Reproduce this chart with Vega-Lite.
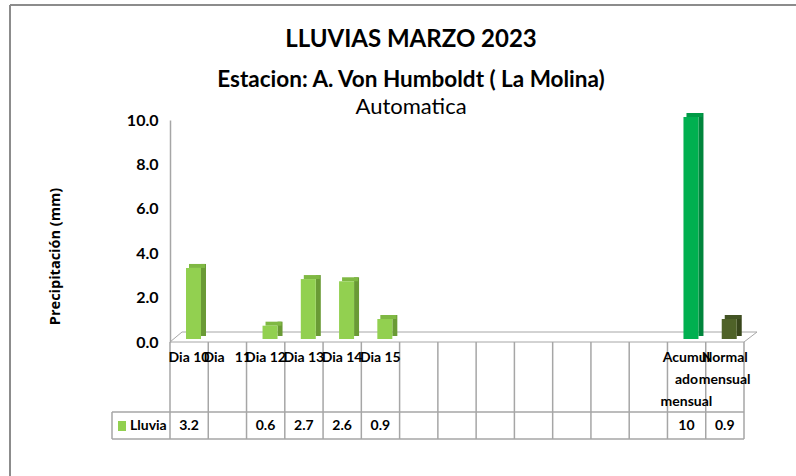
{
  "$schema": "https://vega.github.io/schema/vega-lite/v6.json",
  "autosize": {"type": "none"},
  "width": 574,
  "height": 222,
  "padding": {"left": 170, "top": 120, "right": 52, "bottom": 134},
  "background": "white",
  "config": {"view": {"stroke": null}, "font": "Lato"},
  "title": {
    "text": "LLUVIAS MARZO 2023",
    "subtitle": "Estacion: A. Von Humboldt ( La Molina)",
    "frame": "group",
    "anchor": "middle",
    "dx": -46,
    "offset": -87,
    "font": "Lato",
    "fontSize": 24,
    "fontWeight": "bold",
    "color": "#000000",
    "subtitleFont": "Lato",
    "subtitleFontSize": 22.5,
    "subtitleFontWeight": "bold",
    "subtitleColor": "#000000",
    "subtitlePadding": 17
  },
  "data": {
    "values": [
      {"i": 0, "label": "Dia 10", "value": 3.2, "kind": "dia"},
      {"i": 1, "label": "Dia\u00a0\u00a0\u00a011", "value": null, "kind": "dia"},
      {"i": 2, "label": "Dia 12", "value": 0.6, "kind": "dia"},
      {"i": 3, "label": "Dia 13", "value": 2.7, "kind": "dia"},
      {"i": 4, "label": "Dia 14", "value": 2.6, "kind": "dia"},
      {"i": 5, "label": "Dia 15", "value": 0.9, "kind": "dia"},
      {"i": 6, "label": "", "value": null, "kind": "dia"},
      {"i": 7, "label": "", "value": null, "kind": "dia"},
      {"i": 8, "label": "", "value": null, "kind": "dia"},
      {"i": 9, "label": "", "value": null, "kind": "dia"},
      {"i": 10, "label": "", "value": null, "kind": "dia"},
      {"i": 11, "label": "", "value": null, "kind": "dia"},
      {"i": 12, "label": "", "value": null, "kind": "dia"},
      {"i": 13, "label": "Acumul\nado\nmensual", "value": 10, "kind": "acum"},
      {"i": 14, "label": "Normal\nmensual", "value": 0.9, "kind": "normal"}
    ]
  },
  "resolve": {"scale": {"color": "independent"}},
  "layer": [
    {
      "data": {"values": [{}]},
      "mark": {"type": "rule", "color": "#8C8C8C", "strokeWidth": 2, "xOffset": -160, "x2Offset": 300, "yOffset": -115, "y2Offset": -115},
      "encoding": {"x": {"datum": 0, "type": "quantitative", "scale": {"domain": [0, 15], "nice": false, "zero": false}, "axis": null}, "x2": {"datum": 15}, "y": {"datum": 10, "type": "quantitative"}, "y2": {"datum": 10}}
    },
    {
      "data": {"values": [{}]},
      "mark": {"type": "rule", "color": "#8C8C8C", "strokeWidth": 2, "xOffset": -160, "x2Offset": -160, "yOffset": -115, "y2Offset": 150},
      "encoding": {"x": {"datum": 0, "type": "quantitative"}, "x2": {"datum": 0}, "y": {"datum": 10, "type": "quantitative"}, "y2": {"datum": 0}}
    },
    {
      "data": {"values": [{}]},
      "mark": {"type": "rule", "color": "#A6A6A6", "strokeWidth": 1, "xOffset": 12, "x2Offset": 13, "yOffset": -10, "y2Offset": -10},
      "encoding": {"x": {"datum": 0, "type": "quantitative"}, "x2": {"datum": 15}, "y": {"datum": 0, "type": "quantitative"}, "y2": {"datum": 0}}
    },
    {
      "data": {"values": [{}]},
      "mark": {"type": "rule", "color": "#A6A6A6", "strokeWidth": 1, "xOffset": 0, "x2Offset": 12, "yOffset": 0, "y2Offset": -10},
      "encoding": {"x": {"datum": 0, "type": "quantitative"}, "x2": {"datum": 0}, "y": {"datum": 0, "type": "quantitative"}, "y2": {"datum": 0}}
    },
    {
      "data": {"values": [{}]},
      "mark": {"type": "rule", "color": "#A6A6A6", "strokeWidth": 1, "xOffset": 0, "x2Offset": 13, "yOffset": 0, "y2Offset": -10},
      "encoding": {"x": {"datum": 15, "type": "quantitative"}, "x2": {"datum": 15}, "y": {"datum": 0, "type": "quantitative"}, "y2": {"datum": 0}}
    },
    {
      "data": {"values": [{}]},
      "mark": {"type": "rule", "color": "#A6A6A6", "strokeWidth": 1},
      "encoding": {"x": {"datum": 0, "type": "quantitative"}, "x2": {"datum": 15}, "y": {"datum": 0, "type": "quantitative"}, "y2": {"datum": 0}}
    },
    {
      "data": {"values": [{}]},
      "mark": {"type": "rule", "color": "#A6A6A6", "strokeWidth": 1.5, "xOffset": -58, "yOffset": 70, "y2Offset": 70},
      "encoding": {"x": {"datum": 0, "type": "quantitative"}, "x2": {"datum": 15}, "y": {"datum": 0, "type": "quantitative"}, "y2": {"datum": 0}}
    },
    {
      "data": {"values": [{}]},
      "mark": {"type": "rule", "color": "#A6A6A6", "strokeWidth": 1.5, "xOffset": -58, "yOffset": 97, "y2Offset": 97},
      "encoding": {"x": {"datum": 0, "type": "quantitative"}, "x2": {"datum": 15}, "y": {"datum": 0, "type": "quantitative"}, "y2": {"datum": 0}}
    },
    {
      "data": {"values": [{}]},
      "mark": {"type": "rule", "color": "#A6A6A6", "strokeWidth": 1.5, "xOffset": -58, "x2Offset": -58, "yOffset": 70, "y2Offset": 97},
      "encoding": {"x": {"datum": 0, "type": "quantitative"}, "x2": {"datum": 0}, "y": {"datum": 0, "type": "quantitative"}, "y2": {"datum": 0}}
    },
    {
      "mark": {"type": "rule", "color": "#A6A6A6", "strokeWidth": 1.5, "y2Offset": 97},
      "encoding": {"x": {"field": "i", "type": "quantitative", "scale": {"domain": [0, 15], "nice": false, "zero": false}}, "y": {"datum": 0, "type": "quantitative"}, "y2": {"datum": 0}}
    },
    {
      "data": {"values": [{}]},
      "mark": {"type": "rule", "color": "#A6A6A6", "strokeWidth": 1.5, "y2Offset": 97},
      "encoding": {"x": {"datum": 15, "type": "quantitative"}, "y": {"datum": 0, "type": "quantitative"}, "y2": {"datum": 0}}
    },
    {
      "data": {"values": [{}]},
      "mark": {"type": "rect", "color": "#92D050", "xOffset": -52, "x2Offset": -44, "yOffset": 79, "y2Offset": 89},
      "encoding": {"x": {"datum": 0, "type": "quantitative"}, "x2": {"datum": 0}, "y": {"datum": 0, "type": "quantitative"}, "y2": {"datum": 0}}
    },
    {
      "data": {"values": [{"serie": "Lluvia"}]},
      "mark": {"type": "text", "font": "Lato", "fontWeight": "bold", "fontSize": 14, "align": "left", "baseline": "middle", "xOffset": -40, "yOffset": 84, "color": "#000000"},
      "encoding": {"x": {"datum": 0, "type": "quantitative"}, "y": {"datum": 0, "type": "quantitative"}, "text": {"field": "serie"}}
    },
    {
      "data": {"values": [{"t": "Automatica"}]},
      "mark": {"type": "text", "font": "Lato", "fontSize": 22, "align": "center", "baseline": "middle", "yOffset": -13, "color": "#000000"},
      "encoding": {"x": {"datum": 6.3, "type": "quantitative"}, "y": {"datum": 10, "type": "quantitative"}, "text": {"field": "t"}}
    },
    {
      "mark": {"type": "text", "font": "Lato", "fontWeight": "bold", "fontSize": 14, "align": "center", "baseline": "top", "lineBreak": "\n", "lineHeight": 22, "xOffset": 19, "yOffset": 9, "color": "#000000"},
      "encoding": {"x": {"field": "i", "type": "quantitative"}, "y": {"datum": 0, "type": "quantitative"}, "text": {"field": "label"}}
    },
    {
      "transform": [{"filter": "datum.value != null"}],
      "mark": {"type": "text", "font": "Lato", "fontWeight": "bold", "fontSize": 14, "align": "center", "baseline": "middle", "xOffset": 19, "yOffset": 84, "color": "#000000"},
      "encoding": {"x": {"field": "i", "type": "quantitative"}, "y": {"datum": 0, "type": "quantitative"}, "text": {"field": "value", "type": "quantitative"}}
    },
    {
      "transform": [{"filter": "datum.value != null"}],
      "mark": {"type": "rect", "xOffset": 31, "x2Offset": 36, "yOffset": -7, "y2Offset": -6},
      "encoding": {
        "x": {"field": "i", "type": "quantitative"},
        "x2": {"field": "i"},
        "y": {"field": "value", "type": "quantitative", "scale": {"domain": [0, 10], "nice": false},
          "axis": {"values": [0, 2, 4, 6, 8, 10], "format": ".1f", "labelFont": "Lato", "labelFontWeight": "bold", "labelFontSize": 16, "labelColor": "#000000", "labelPadding": 12, "ticks": false, "grid": false, "domainColor": "#A6A6A6", "domainWidth": 1.5, "title": "Precipitación (mm)", "titleFont": "Open Sans", "titleFontWeight": "bold", "titleFontSize": 14.5, "titleColor": "#000000", "titleX": -115, "titleY": 136, "titleAngle": -90, "titleAlign": "center", "titleBaseline": "middle"}},
        "y2": {"datum": 0},
        "color": {"field": "kind", "type": "nominal", "legend": null, "scale": {"domain": ["dia", "acum", "normal"], "range": ["#6A9A35", "#00853C", "#38461B"]}}
      }
    },
    {
      "transform": [{"filter": "datum.value != null"}],
      "mark": {"type": "rect", "xOffset": 19, "x2Offset": 35, "yOffset": -7, "y2Offset": -3},
      "encoding": {
        "x": {"field": "i", "type": "quantitative"},
        "x2": {"field": "i"},
        "y": {"field": "value", "type": "quantitative"},
        "y2": {"field": "value"},
        "color": {"field": "kind", "type": "nominal", "legend": null, "scale": {"domain": ["dia", "acum", "normal"], "range": ["#7FB843", "#009A46", "#435424"]}}
      }
    },
    {
      "transform": [{"filter": "datum.value != null"}],
      "mark": {"type": "rect", "xOffset": 16, "x2Offset": 31, "yOffset": -3, "y2Offset": -3},
      "encoding": {
        "x": {"field": "i", "type": "quantitative"},
        "x2": {"field": "i"},
        "y": {"field": "value", "type": "quantitative"},
        "y2": {"datum": 0},
        "color": {"field": "kind", "type": "nominal", "legend": null, "scale": {"domain": ["dia", "acum", "normal"], "range": ["#92D050", "#00B050", "#4F6228"]}}
      }
    }
  ]
}
